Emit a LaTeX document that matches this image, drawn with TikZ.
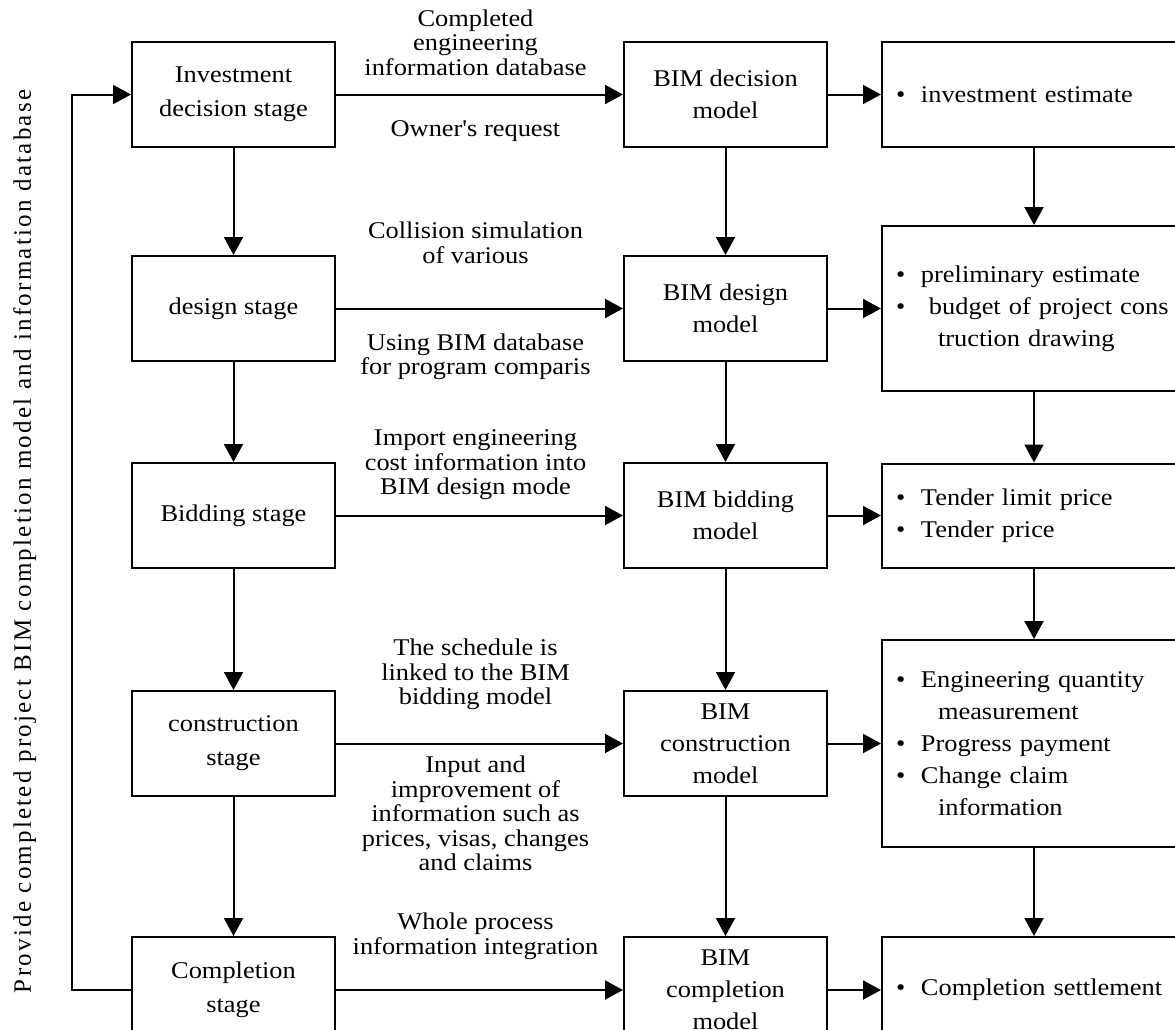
\documentclass[tikz,border=0pt]{standalone}
\usepackage{fontspec}
\setmainfont{Liberation Serif}[FakeStretch=1.1, Ligatures=TeXOff]
\newfontfamily\sidefont{Liberation Serif}[LetterSpace=9]
\usetikzlibrary{arrows.meta,positioning}
\newcommand{\itm}[1]{\mbox{\makebox[12.5pt][l]{\textbullet}#1}}
\newcommand{\cnt}[1]{\mbox{\hspace*{21pt}#1}}
\tikzset{
  stage/.style={
    draw, line width=1pt, align=center, font=\fontsize{12pt}{17pt}\selectfont,
    minimum width=101.5pt, minimum height=52.5pt, inner sep=2pt
  },
  model/.style={stage, font=\fontsize{12pt}{16pt}\selectfont},
  cost/.style={
    draw, line width=1pt, align=left, font=\fontsize{12pt}{16pt}\selectfont,
    text width=138pt, inner xsep=7pt, minimum height=52.5pt
  },
  arr/.style={-{Triangle[length=9pt,width=9.5pt]}, line width=1pt},
  lbl/.style={font=\fontsize{12pt}{12.25pt}\selectfont, align=center, inner sep=0pt, xshift=-2pt}
}
\begin{document}
\begin{tikzpicture}
  \useasboundingbox (0,0) rectangle (587.5pt,-515pt);
  \clip (0,0) rectangle (587.5pt,-515pt);

  % stages
  \node[stage] (inv) at (116.75pt,-47.25pt) {Investment\\decision stage};
  \node[stage, below=53.5pt of inv] (des) {design stage};
  \node[stage, below=50pt of des] (bid) {Bidding stage};
  \node[stage, below=60.5pt of bid] (con) {construction\\stage};
  \node[stage, below=69.5pt of con, minimum height=53pt] (com) {Completion\\stage};

  % BIM models
  \node[model, right=143.5pt of inv] (mdec) {BIM decision\\model};
  \node[model, right=143.5pt of des] (mdes) {BIM design\\model};
  \node[model, right=143.5pt of bid] (mbid) {BIM bidding\\model};
  \node[model, right=143.5pt of con] (mcon) {BIM\\construction\\model};
  \node[model, right=143.5pt of com, minimum height=53pt] (mcom) {BIM\\completion\\model};

  % cost results
  \node[cost, right=26.5pt of mdec] (cdec) {\itm{investment estimate}};
  \node[cost, right=26.5pt of mdes, minimum height=82.5pt] (cdes)
    {\itm{preliminary estimate}\\\itm{~budget of project cons}\\\cnt{truction drawing}};
  \node[cost, right=26.5pt of mbid, minimum height=52pt] (cbid)
    {\itm{Tender limit price}\\\itm{Tender price}};
  \node[cost, right=26.5pt of mcon, minimum height=103.5pt] (ccon)
    {\itm{Engineering quantity}\\\cnt{measurement}\\\itm{Progress payment}\\\itm{Change claim}\\\cnt{information}};
  \node[cost, right=26.5pt of mcom, minimum height=53pt] (ccom) {\itm{Completion settlement}};

  % stage -> model, with labels
  \draw[arr] (inv) -- (mdec)
    node[lbl, midway, above=9pt] (t1) {Completed\\engineering\\information database}
    node[lbl, midway, below=12.5pt] (b1) {Owner's request};
  \draw[arr] (des) -- (mdes)
    node[lbl, midway, above=22pt] (t2) {Collision simulation\\of various}
    node[lbl, midway, below=12pt] (b2) {Using BIM database\\for program comparis};
  \draw[arr] (bid) -- (mbid)
    node[lbl, midway, above=7.4pt] (t3) {Import engineering\\cost information into\\BIM design mode};
  \draw[arr] (con) -- (mcon)
    node[lbl, midway, above=16.4pt] (t4) {The schedule is\\linked to the BIM\\bidding model}
    node[lbl, midway, below=5.8pt] (b4) {Input and\\improvement of\\information such as\\prices, visas, changes\\and claims};
  \draw[arr] (com) -- (mcom)
    node[lbl, midway, above=14.9pt] (t5) {Whole process\\information integration};

  % model -> cost
  \draw[arr] (mdec) -- (cdec);
  \draw[arr] (mdes) -- (cdes);
  \draw[arr] (mbid) -- (cbid);
  \draw[arr] (mcon) -- (ccon);
  \draw[arr] (mcom) -- (ccom);

  % downwards in each column
  \draw[arr] (inv) -- (des);
  \draw[arr] (des) -- (bid);
  \draw[arr] (bid) -- (con);
  \draw[arr] (con) -- (com);
  \draw[arr] (mdec) -- (mdes);
  \draw[arr] (mdes) -- (mbid);
  \draw[arr] (mbid) -- (mcon);
  \draw[arr] (mcon) -- (mcom);
  \draw[arr] (cdec) -- (cdes);
  \draw[arr] (cdes) -- (cbid);
  \draw[arr] (cbid) -- (ccon);
  \draw[arr] (ccon) -- (ccom);

  % feedback
  \draw[arr] (com.west) -- ++(-29.5pt,0) |- (inv.west);
  \node[rotate=90, font=\sidefont\fontsize{12.5pt}{14pt}\selectfont, inner sep=0pt] (side)
    at (12.4pt,-270.75pt) {Provide completed project BIM completion model and information database};
\end{tikzpicture}
\end{document}
